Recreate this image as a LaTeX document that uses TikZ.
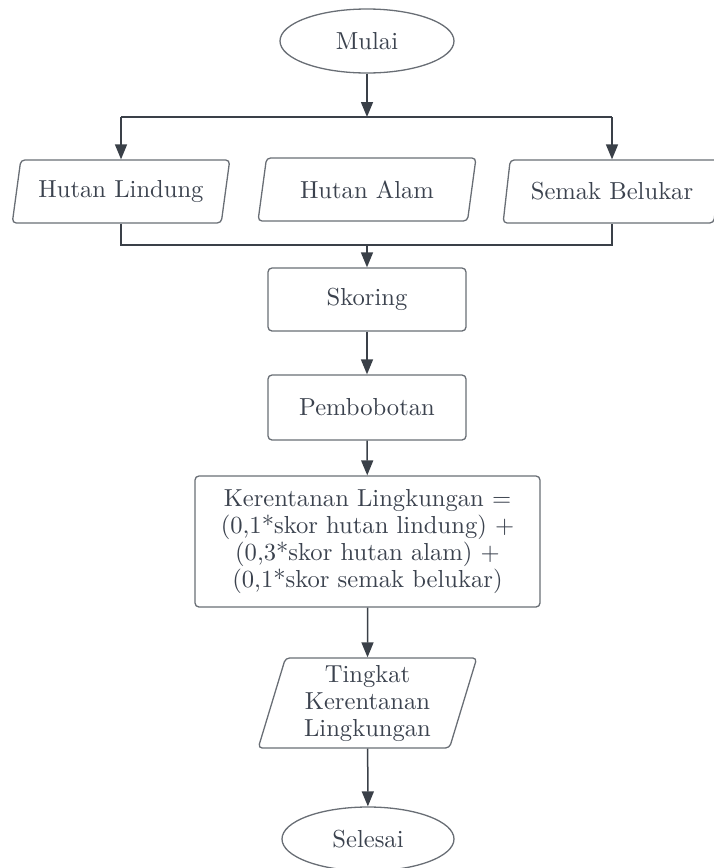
\documentclass[tikz,border=0pt]{standalone}
\usepackage{fontspec}
\setmainfont{lmroman10-regular.otf}
\usepackage{tikz}
\usetikzlibrary{arrows.meta,calc,shapes.geometric}

\definecolor{garis}{RGB}{58,64,72}
\definecolor{tepi}{RGB}{105,110,117}
\definecolor{teks}{RGB}{59,66,78}

\tikzset{
  mulaiselesai/.style={ellipse,draw=tepi,line width=1.3pt,minimum width=174pt,minimum height=64pt,inner sep=0pt,text=teks},
  proses/.style={rectangle,draw=tepi,line width=1.3pt,rounded corners=4pt,minimum width=198pt,minimum height=63pt,inner sep=0pt,text=teks,align=center},
  masukan/.style={trapezium,trapezium stretches=true,trapezium left angle=72.4,trapezium right angle=107.6,draw=tepi,line width=1.3pt,rounded corners=4pt,minimum width=218pt,minimum height=63pt,inner sep=0pt,text=teks,align=center},
  garisan/.style={draw=garis,line width=1.5pt},
  panah/.style={garisan,-{Triangle[length=15pt,width=12pt]}},
}

\begin{document}
\begin{tikzpicture}[x=1pt,y=-1pt,font=\fontsize{24.6}{27}\selectfont]
  \useasboundingbox (0,0) rectangle (713,868);

  \node[mulaiselesai] (mulai) at (367,41) {Mulai};
  \node[masukan] (lindung) at (121,191.5) {Hutan Lindung};
  \node[masukan] (alam) at (367,189.5) {Hutan Alam};
  \node[masukan] (semak) at (612,191.5) {Semak Belukar};
  \node[proses] (skoring) at (367,299.5) {Skoring};
  \node[proses,minimum height=65pt] (bobot) at (367,407.5) {Pembobotan};
  \node[proses,minimum width=345pt,minimum height=131pt] (rumus) at (367.5,541.5)
    {Kerentanan Lingkungan =\\(0,1*skor hutan lindung) +\\(0,3*skor hutan alam) +\\(0,1*skor semak belukar)};
  \node[masukan,trapezium left angle=74.5,trapezium right angle=105.5,minimum width=219pt,minimum height=90pt] (tingkat) at (367.5,703)
    {Tingkat\\Kerentanan\\Lingkungan};
  \node[mulaiselesai,minimum width=172pt] (selesai) at (368,839) {Selesai};

  \coordinate (cabang) at (367,117);
  \coordinate (gabung) at (367,245);

  % percabangan ke data masukan
  \draw[panah] (mulai) -- (cabang);
  \draw[garisan] (lindung.north |- cabang) -- (semak.north |- cabang);
  \draw[panah] (lindung.north |- cabang) -- (lindung.north);
  \draw[panah] (semak.north |- cabang) -- (semak.north);

  % penggabungan
  \draw[garisan] (lindung.south) -- (lindung.south |- gabung) -- (semak.south |- gabung) -- (semak.south);
  \draw[panah] (gabung) -- (skoring);
  \draw[panah] (skoring) -- (bobot);
  \draw[panah] (bobot) -- (rumus);
  \draw[panah] (rumus) -- (tingkat);
  \draw[panah] (tingkat) -- (selesai);
\end{tikzpicture}
\end{document}
